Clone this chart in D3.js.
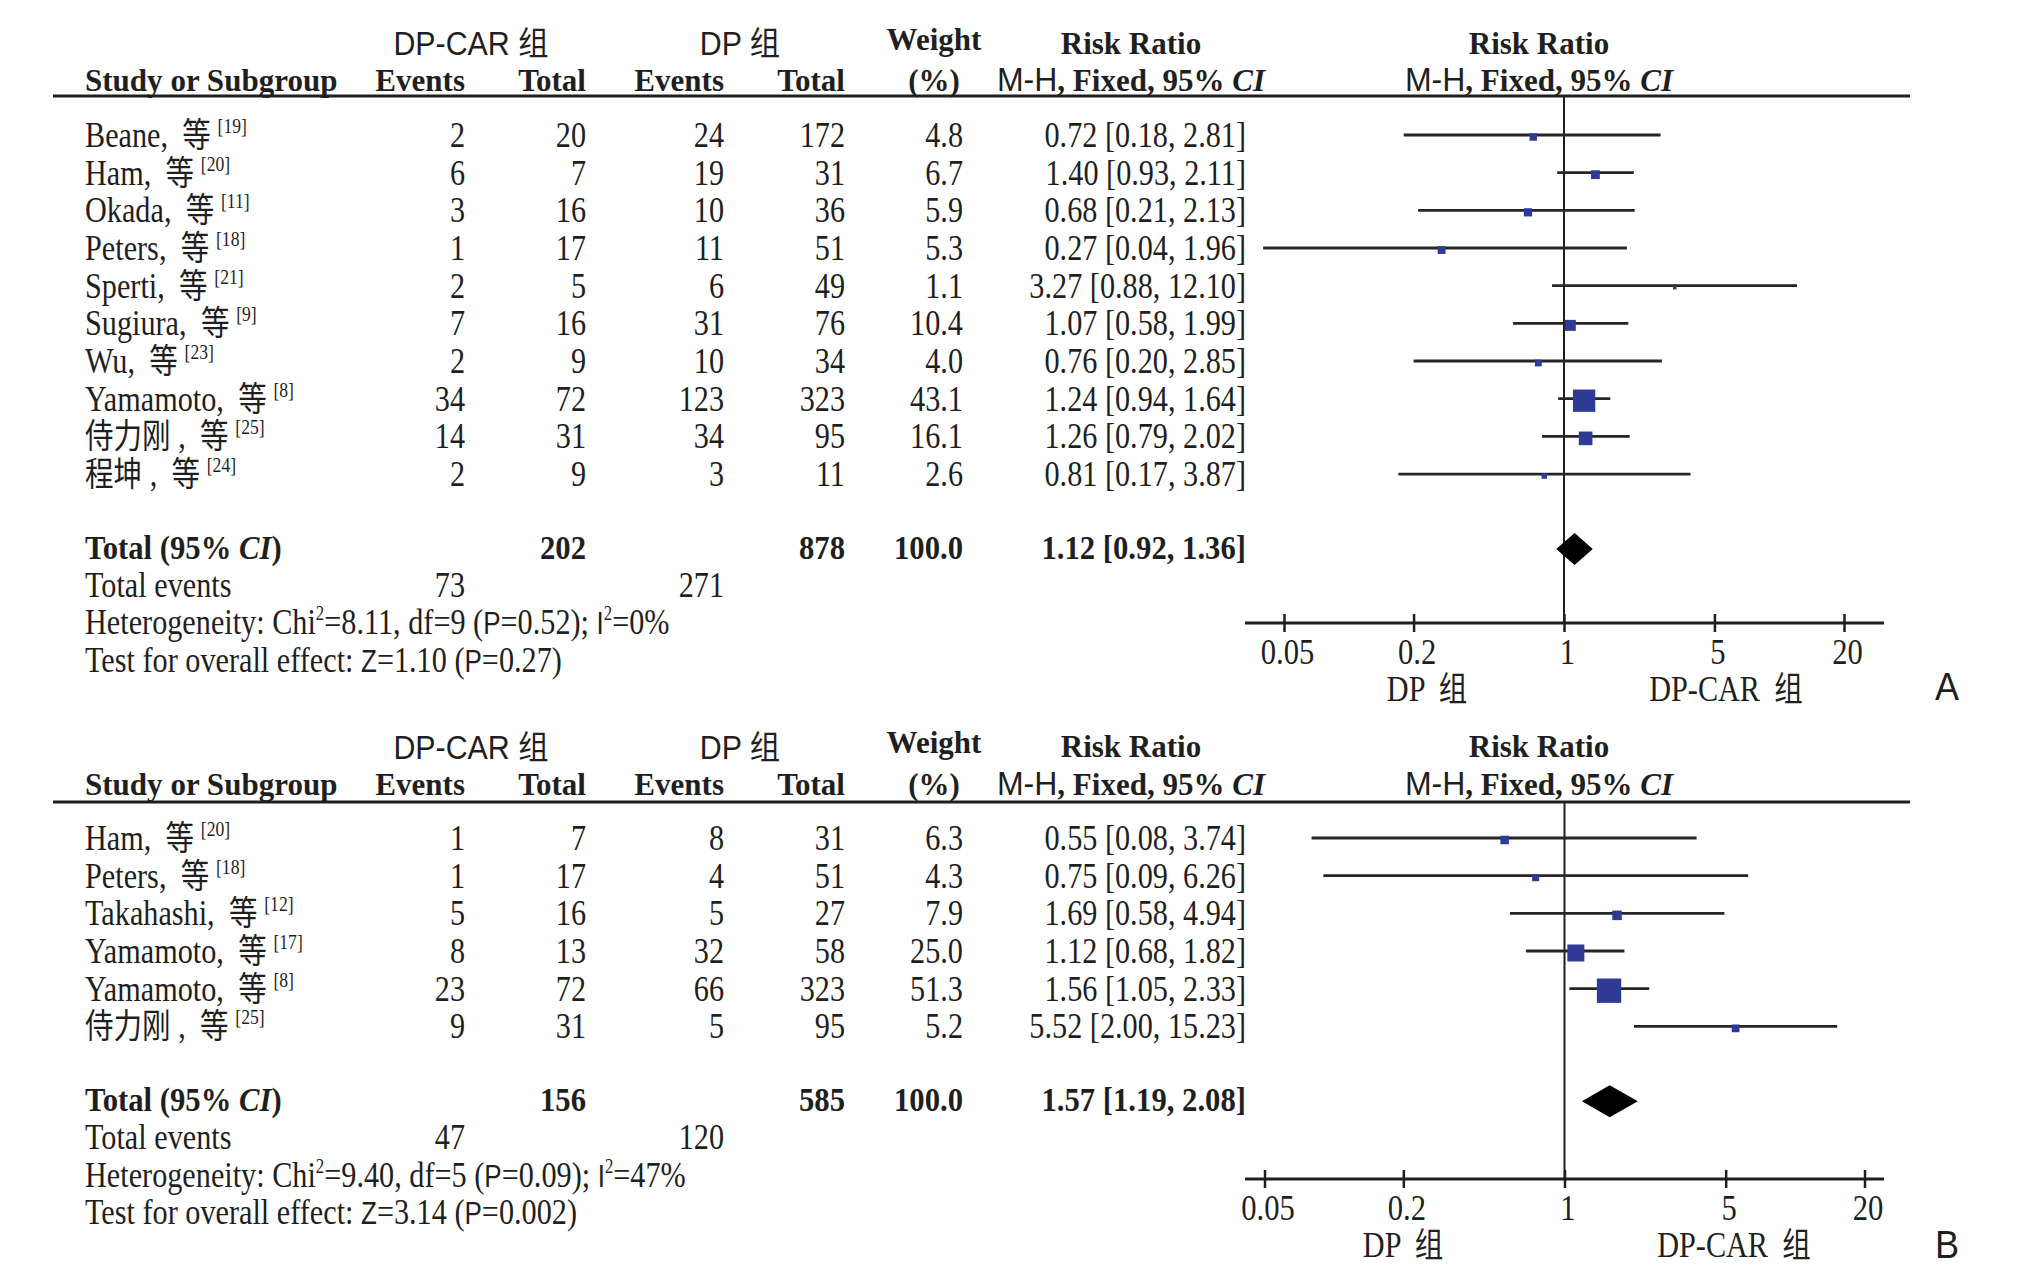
<!DOCTYPE html>
<html><head><meta charset="utf-8">
<script src="https://cdn.jsdelivr.net/npm/d3@7"></script>
<style>body{margin:0;background:#fff;} svg{display:block}</style>
</head><body>
<script>
// ---------- DATA ----------
const ticks = [0.05, 0.2, 1, 5, 20];
const tickLabels = ["0.05", "0.2", "1", "5", "20"];
const groupLabels = ["DP-CAR 组", "DP 组"];

// Panel A
const studiesA = ["Beane, 等", "Ham, 等", "Okada, 等", "Peters, 等", "Sperti, 等", "Sugiura, 等", "Wu, 等", "Yamamoto, 等", "侍力刚 , 等", "程坤 , 等"];
const refsA = [19, 20, 11, 18, 21, 9, 23, 8, 25, 24];
const carEventsA = [2, 6, 3, 1, 2, 7, 2, 34, 14, 2];
const carTotalA = [20, 7, 16, 17, 5, 16, 9, 72, 31, 9];
const dpEventsA = [24, 19, 10, 11, 6, 31, 10, 123, 34, 3];
const dpTotalA = [172, 31, 36, 51, 49, 76, 34, 323, 95, 11];
const weightA = [4.8, 6.7, 5.9, 5.3, 1.1, 10.4, 4.0, 43.1, 16.1, 2.6];
const rrA = [0.72, 1.40, 0.68, 0.27, 3.27, 1.07, 0.76, 1.24, 1.26, 0.81];
const lowA = [0.18, 0.93, 0.21, 0.04, 0.88, 0.58, 0.20, 0.94, 0.79, 0.17];
const highA = [2.81, 2.11, 2.13, 1.96, 12.10, 1.99, 2.85, 1.64, 2.02, 3.87];
const sumsA = [202, 878, 100.0];
const pooledA = [1.12, 0.92, 1.36];
const totalEventsA = [73, 271];
const hetA = ["8.11", "9", "0.52", "0"];
const testA = ["1.10", "0.27"];

// Panel B
const studiesB = ["Ham, 等", "Peters, 等", "Takahashi, 等", "Yamamoto, 等", "Yamamoto, 等", "侍力刚 , 等"];
const refsB = [20, 18, 12, 17, 8, 25];
const carEventsB = [1, 1, 5, 8, 23, 9];
const carTotalB = [7, 17, 16, 13, 72, 31];
const dpEventsB = [8, 4, 5, 32, 66, 5];
const dpTotalB = [31, 51, 27, 58, 323, 95];
const weightB = [6.3, 4.3, 7.9, 25.0, 51.3, 5.2];
const rrB = [0.55, 0.75, 1.69, 1.12, 1.56, 5.52];
const lowB = [0.08, 0.09, 0.58, 0.68, 1.05, 2.00];
const highB = [3.74, 6.26, 4.94, 1.82, 2.33, 15.23];
const sumsB = [156, 585, 100.0];
const pooledB = [1.57, 1.19, 2.08];
const totalEventsB = [47, 120];
const hetB = ["9.40", "5", "0.09", "47"];
const testB = ["3.14", "0.002"];

// ---------- STYLE ----------
const SERIF = "'Liberation Serif','Times New Roman',serif";
const SANS = "'Liberation Sans',Arial,sans-serif";
const CJK = "'Noto Sans CJK SC','Noto Sans CJK JP',sans-serif";
const INK = "#1f1f1f";
const BLUE = "#2e3a96";
const REG = {size: 36, sx: 0.84, weight: "normal"};
const BOLD = {size: 33, sx: 0.93, weight: "bold"};
const HEAD = {size: 32, sx: 0.97, weight: "bold"};
const GSANS = {size: 33, sx: 0.92, weight: "normal", font: SANS + ",'Noto Sans CJK SC'"};

const svg = d3.select("body").append("svg").attr("width", 2037).attr("height", 1275);
svg.append("rect").attr("width", 2037).attr("height", 1275).attr("fill", "#fff");

function isCJK(c) { return /[\u3000-\u9fff\uff00-\uffef]/.test(c); }
function splitCJK(str, cjkSize) {
  const parts = []; let cur = null;
  for (const ch of str) {
    const c = isCJK(ch);
    if (!cur || cur.cjk !== c) { cur = {t: "", cjk: c}; parts.push(cur); }
    cur.t += ch;
  }
  return parts.map((p, i) => p.cjk
    ? {t: p.t, font: CJK, size: cjkSize, dx: (i > 0 && parts[i-1].t.endsWith(" ")) ? 8 : 0}
    : {t: p.t});
}
function text(g, x, y, parts, st, anchor) {
  const t = g.append("text")
    .attr("transform", `translate(${x},${y}) scale(${st.sx},1)`)
    .attr("text-anchor", anchor || "start")
    .attr("font-family", st.font || SERIF)
    .attr("font-size", st.size)
    .attr("font-weight", st.weight)
    .attr("fill", INK)
    .style("white-space", "pre");
  if (typeof parts === "string") parts = [{t: parts}];
  let cur = 0;
  parts.forEach(p => {
    const ts = t.append("tspan").text(p.t);
    if (p.font) ts.attr("font-family", p.font);
    if (p.size) ts.attr("font-size", p.size);
    if (p.weight) ts.attr("font-weight", p.weight);
    if (p.italic) ts.attr("font-style", "italic");
    const rise = p.rise || 0;
    if (rise !== cur) { ts.attr("dy", cur - rise); cur = rise; }
    if (p.dx) ts.attr("dx", p.dx);
  });
  return t;
}

const panels = [
  {studies: studiesA, refs: refsA, carEv: carEventsA, carTot: carTotalA, dpEv: dpEventsA, dpTot: dpTotalA,
   w: weightA, rr: rrA, lo: lowA, hi: highA, sums: sumsA, pooled: pooledA, tev: totalEventsA, het: hetA, test: testA,
   lineY: 96, hdr1: 55, hdrW: 50, hdrR: 53.5, hdr2: 91, row0: 147, axisY: 623, xr: [1284, 1844],
   dirX: [1427, 1726], letter: "A", letterY: 700},
  {studies: studiesB, refs: refsB, carEv: carEventsB, carTot: carTotalB, dpEv: dpEventsB, dpTot: dpTotalB,
   w: weightB, rr: rrB, lo: lowB, hi: highB, sums: sumsB, pooled: pooledB, tev: totalEventsB, het: hetB, test: testB,
   lineY: 802, hdr1: 759, hdrW: 753, hdrR: 757, hdr2: 795, row0: 850, axisY: 1179, xr: [1264.5, 1864.5],
   dirX: [1403, 1734], letter: "B", letterY: 1258}
];

// column anchors
const C = {name: 85, carEv: 465, carTot: 586, dpEv: 724, dpTot: 845, w: 963, wC: 934, rr: 1246, rrC: 1131, plotC: 1539};
const ROW = 37.67;

panels.forEach(p => {
  const g = svg.append("g");
  const x = d3.scaleLog().domain([0.05, 20]).range(p.xr);

  // headers
  text(g, 471, p.hdr1, groupLabels[0], GSANS, "middle");
  text(g, 740, p.hdr1, groupLabels[1], GSANS, "middle");
  text(g, C.wC, p.hdrW, "Weight", HEAD, "middle");
  text(g, C.rrC, p.hdrR, "Risk Ratio", HEAD, "middle");
  text(g, C.plotC, p.hdrR, "Risk Ratio", HEAD, "middle");
  text(g, C.name, p.hdr2, "Study or Subgroup", HEAD);
  text(g, C.carEv, p.hdr2, "Events", HEAD, "end");
  text(g, C.carTot, p.hdr2, "Total", HEAD, "end");
  text(g, C.dpEv, p.hdr2, "Events", HEAD, "end");
  text(g, C.dpTot, p.hdr2, "Total", HEAD, "end");
  text(g, C.wC, p.hdr2, "(%)", HEAD, "middle");
  const mh = [{t: "M-H", font: SANS, weight: "normal", size: 33}, {t: ", Fixed, 95% "}, {t: "CI", italic: true}];
  text(g, C.rrC, p.hdr2, mh, HEAD, "middle");
  text(g, C.plotC, p.hdr2, mh, HEAD, "middle");

  g.append("line").attr("x1", 53).attr("x2", 1910).attr("y1", p.lineY).attr("y2", p.lineY)
    .attr("stroke", INK).attr("stroke-width", 3);

  // rows
  p.studies.forEach((s, i) => {
    const y = p.row0 + ROW * i;
    const parts = splitCJK(s, 34).concat([{t: `[${p.refs[i]}]`, size: 21, rise: 14, dx: 8}]);
    text(g, C.name, y, parts, REG);
    text(g, C.carEv, y, String(p.carEv[i]), REG, "end");
    text(g, C.carTot, y, String(p.carTot[i]), REG, "end");
    text(g, C.dpEv, y, String(p.dpEv[i]), REG, "end");
    text(g, C.dpTot, y, String(p.dpTot[i]), REG, "end");
    text(g, C.w, y, p.w[i].toFixed(1), REG, "end");
    text(g, C.rr, y, `${p.rr[i].toFixed(2)} [${p.lo[i].toFixed(2)}, ${p.hi[i].toFixed(2)}]`, REG, "end");
  });

  const lastY = p.row0 + ROW * (p.studies.length - 1);
  const totY = lastY + 73;

  // vertical line at RR = 1
  g.append("line").attr("x1", x(1)).attr("x2", x(1)).attr("y1", p.lineY).attr("y2", p.axisY)
    .attr("stroke", INK).attr("stroke-width", 2);

  // CI lines and squares
  p.studies.forEach((s, i) => {
    const y = p.row0 + ROW * i;
    g.append("line").attr("x1", x(p.lo[i])).attr("x2", x(p.hi[i])).attr("y1", y - 12).attr("y2", y - 12)
      .attr("stroke", "#262626").attr("stroke-width", 2.8);
    const side = 3.4 * Math.sqrt(p.w[i]);
    g.append("rect").attr("x", x(p.rr[i]) - side / 2).attr("y", y - 10 - side / 2)
      .attr("width", side).attr("height", side).attr("fill", BLUE);
  });

  // total row
  text(g, C.name, totY, [{t: "Total (95% "}, {t: "CI", italic: true}, {t: ")"}], BOLD);
  text(g, C.carTot, totY, String(p.sums[0]), BOLD, "end");
  text(g, C.dpTot, totY, String(p.sums[1]), BOLD, "end");
  text(g, C.w, totY, p.sums[2].toFixed(1), BOLD, "end");
  text(g, C.rr, totY, `${p.pooled[0].toFixed(2)} [${p.pooled[1].toFixed(2)}, ${p.pooled[2].toFixed(2)}]`, BOLD, "end");
  const cy = totY - 10;
  g.append("path")
    .attr("d", `M${x(p.pooled[1])},${cy} L${x(p.pooled[0])},${cy - 16} L${x(p.pooled[2])},${cy} L${x(p.pooled[0])},${cy + 16} Z`)
    .attr("fill", "#000");

  const evY = totY + ROW, hetY = totY + 2 * ROW, testY = totY + 3 * ROW;
  text(g, C.name, evY, "Total events", REG);
  text(g, C.carEv, evY, String(p.tev[0]), REG, "end");
  text(g, C.dpEv, evY, String(p.tev[1]), REG, "end");
  text(g, C.name, hetY, [
    {t: "Heterogeneity: Chi"}, {t: "2", size: 20, rise: 14},
    {t: `=${p.het[0]}, df=${p.het[1]} (`}, {t: "P", font: SANS, size: 31},
    {t: `=${p.het[2]}); `}, {t: "I", font: SANS, size: 31}, {t: "2", size: 20, rise: 14},
    {t: `=${p.het[3]}%`}], REG);
  text(g, C.name, testY, [
    {t: "Test for overall effect: "}, {t: "Z", font: SANS, size: 31},
    {t: `=${p.test[0]} (`}, {t: "P", font: SANS, size: 31}, {t: `=${p.test[1]})`}], REG);

  // axis
  g.append("line").attr("x1", 1245).attr("x2", 1884).attr("y1", p.axisY).attr("y2", p.axisY)
    .attr("stroke", INK).attr("stroke-width", 3);
  const ax = d3.axisBottom(x).tickValues(ticks).tickFormat((d, i) => tickLabels[i]).tickSizeInner(8).tickSizeOuter(0);
  const ag = g.append("g").attr("transform", `translate(0,${p.axisY})`).call(ax);
  ag.select(".domain").remove();
  ag.selectAll(".tick line").attr("y1", -9).attr("y2", 9).attr("stroke", INK).attr("stroke-width", 2.5);
  ag.selectAll(".tick text").attr("y", 0).attr("dy", 0)
    .attr("transform", "translate(3,41) scale(0.85,1)")
    .attr("font-family", SERIF).attr("font-size", 36).attr("fill", INK);

  text(g, p.dirX[0], p.axisY + 78, splitCJK(groupLabels[1], 34), REG, "middle");
  text(g, p.dirX[1], p.axisY + 78, splitCJK(groupLabels[0], 34), REG, "middle");
  text(g, 1935, p.letterY, p.letter, {size: 38, sx: 0.95, weight: "normal", font: SANS});
});
</script>
</body></html>
